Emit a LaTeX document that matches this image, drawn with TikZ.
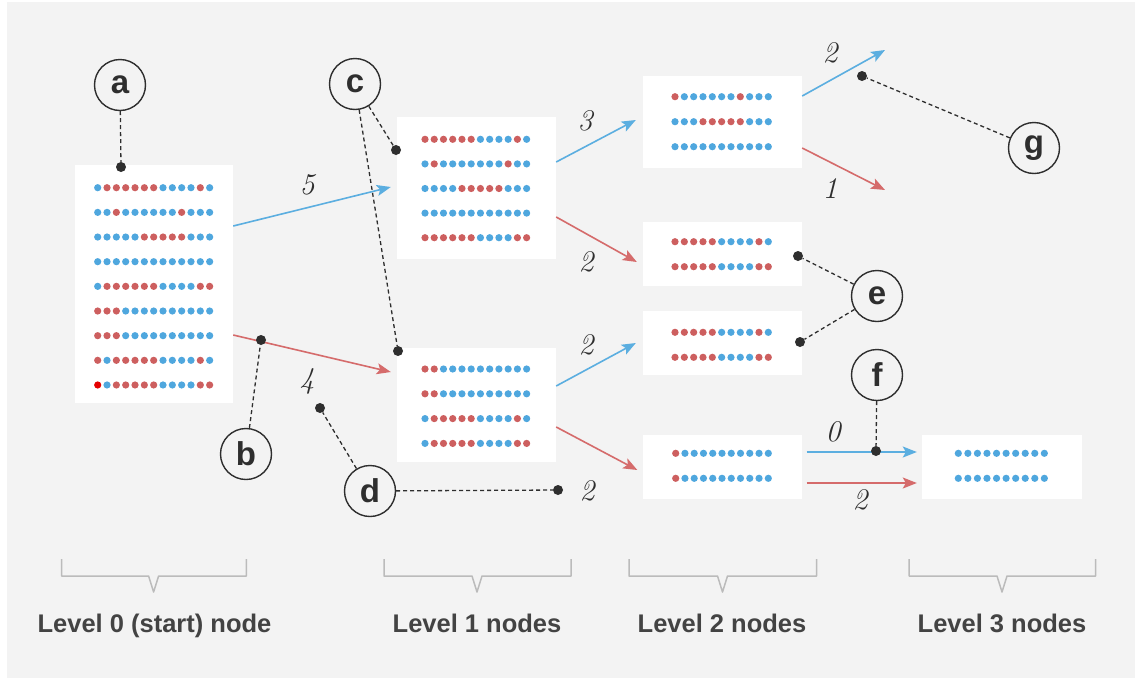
\documentclass[tikz,border=0pt]{standalone}
\usepackage{fontspec}
\setsansfont{Liberation Sans}
\usetikzlibrary{arrows.meta}
\definecolor{bg}{HTML}{F3F3F3}
\definecolor{dotblue}{HTML}{4FA7DE}
\definecolor{dotred}{HTML}{CD5F5F}
\definecolor{arrblue}{HTML}{5BAEE0}
\definecolor{arrred}{HTML}{D56B6B}
\definecolor{ink}{HTML}{2E2E2E}
\definecolor{bracegray}{HTML}{BBBBBB}
% one row of dots: x0, y, step, list of colours (b, r, x)
\newcommand{\dotrow}[4]{%
  \foreach \clr [count=\i from 0] in #4 {\fill[d\clr] (#1+\i*#3,#2) circle (3.6pt);}}
\newcommand{\levelbrace}[3]{%
  \draw[bracegray, line width=1.5pt, line join=round] (#1,559) -- (#1,576) -- (#2-5,576) -- (#2,592) -- (#2+5,576) -- (#3,576) -- (#3,559);}
\begin{document}
\begin{tikzpicture}[x=1pt,y=-1pt,
  db/.style={fill=dotblue}, dr/.style={fill=dotred}, dx/.style={fill=red!90!black},
  box/.style={fill=white, minimum width=159pt, inner sep=0pt},
  letter/.style={circle, draw=ink, line width=1.4pt, fill=bg, minimum size=51pt, inner sep=0pt,
    font=\sffamily\bfseries\fontsize{33}{33}\selectfont, text=ink},
  blob/.style={circle, fill=ink, minimum size=10pt, inner sep=0pt},
  lead/.style={ink, line width=1.3pt, dash pattern=on 4pt off 3pt},
  num/.style={font=\itshape\fontsize{30}{30}\selectfont, text=ink},
  goblue/.style={arrblue, line width=1.6pt, -{Stealth[length=14pt,width=11pt,inset=3pt]}},
  gored/.style={arrred, line width=1.6pt, -{Stealth[length=14pt,width=11pt,inset=3pt]}},
  levellabel/.style={anchor=base, font=\sffamily\bfseries\fontsize{25.5}{25.5}\selectfont, text=ink!90}]
\useasboundingbox (0,0) rectangle (1135,678);
\fill[white] (0,0) rectangle (1135,678);
\fill[bg] (7,2) rectangle (1135,678);

% boxes
\node[box, minimum width=158pt, minimum height=238pt] (l0) at (154,284) {};
\node[box, minimum height=142pt] (l1a) at (476.5,188) {};
\node[box, minimum height=114pt] (l1b) at (476.5,405) {};
\node[box, minimum height=92pt] (l2a) at (722.5,122) {};
\node[box, minimum height=64pt] (l2b) at (722.5,254) {};
\node[box, minimum height=64pt] (l2c) at (722.5,343) {};
\node[box, minimum height=64pt] (l2d) at (722,467) {};
\node[box, minimum width=160pt, minimum height=64pt] (l3) at (1002,467) {};

% dots
\foreach \row [count=\k from 0] in {{b,r,r,r,r,r,r,b,b,b,b,r,b},{b,b,r,b,b,b,b,b,b,r,b,b,b},
    {b,b,b,b,b,r,r,r,r,r,b,b,b},{b,b,b,b,b,b,b,b,b,b,b,b,b},{b,r,r,r,r,r,r,b,b,b,b,r,r},
    {r,r,r,b,b,b,b,b,b,b,b,b,b},{r,r,r,b,b,b,b,b,b,b,b,b,b},{r,b,r,r,r,r,r,b,b,b,b,r,b},
    {x,b,r,r,r,r,r,b,b,b,b,r,r}}
  {\dotrow{97.7}{187.7+\k*24.66}{9.33}{\row}}
\foreach \row [count=\k from 0] in {{r,r,r,r,r,r,b,b,b,b,r,b},{b,r,b,b,b,b,b,b,b,r,b,b},
    {b,b,b,b,r,r,r,r,r,b,b,b},{b,b,b,b,b,b,b,b,b,b,b,b},{r,r,r,r,r,r,b,b,b,b,r,r}}
  {\dotrow{425}{139.3+\k*24.6}{9.24}{\row}}
\foreach \row [count=\k from 0] in {{r,r,b,b,b,b,b,b,b,b,b,b},{r,r,b,b,b,b,b,b,b,b,b,b},
    {b,r,r,r,r,r,b,b,b,b,r,b},{b,r,r,r,r,r,b,b,b,b,r,r}}
  {\dotrow{425}{369+\k*24.8}{9.24}{\row}}
\foreach \row [count=\k from 0] in {{r,b,b,b,b,b,b,r,b,b,b},{b,b,b,r,r,r,r,r,b,b,b},{b,b,b,b,b,b,b,b,b,b,b}}
  {\dotrow{675}{96.7+\k*25}{9.33}{\row}}
\foreach \y in {241.7,332.3} {
  \dotrow{675}{\y}{9.33}{{r,r,r,r,r,b,b,b,b,r,b}}
  \dotrow{675}{\y+25}{9.33}{{r,r,r,r,r,b,b,b,b,r,r}}
}
\foreach \y in {453.3,478.3} {
  \dotrow{675.7}{\y}{9.26}{{r,b,b,b,b,b,b,b,b,b,b}}
  \dotrow{958.3}{\y}{9.56}{{b,b,b,b,b,b,b,b,b,b}}
}

% arrows
\coordinate (top) at (885,50);
\coordinate (mid) at (885,190);
\draw[goblue] ([yshift=58pt]l0.east) -- ([xshift=-6pt,yshift=1pt]l1a.west);
\draw[gored] ([yshift=-51pt]l0.east) -- ([xshift=-6pt,yshift=33pt]l1b.west);
\draw[goblue] ([yshift=26pt]l1a.east) -- ([xshift=-7pt,yshift=2pt]l2a.west);
\draw[gored] ([yshift=-29pt]l1a.east) -- ([xshift=-6pt,yshift=-8pt]l2b.west);
\draw[goblue] ([yshift=19pt]l1b.east) -- ([xshift=-7pt]l2c.west);
\draw[gored] ([yshift=-22pt]l1b.east) -- ([xshift=-5pt,yshift=-3pt]l2d.west);
\draw[goblue] ([yshift=26pt]l2a.east) -- (top);
\draw[gored] ([yshift=-26pt]l2a.east) -- (mid);
\draw[goblue] ([xshift=5pt,yshift=15pt]l2d.east) -- ([xshift=-5pt,yshift=15pt]l3.west);
\draw[gored] ([xshift=5pt,yshift=-16pt]l2d.east) -- ([xshift=-5pt,yshift=-16pt]l3.west);

% numbers
\node[num] (n5) at (307,185) {5};
\node[num] (n4) at (307,381) {4};
\node[num] (n3) at (585,121) {3};
\node[num] (n2a) at (586,262) {2};
\node[num] (n2b) at (586,345) {2};
\node[num] (n2c) at (587,491) {2};
\node[num] (n2d) at (830,53) {2};
\node[num] (n1) at (830,189) {1};
\node[num] (n0) at (833,432) {0};
\node[num] (n2e) at (860,500) {2};

% letters and leads
\node[blob] (adot) at (121,167) {};
\node[blob] (bdot) at (261,340) {};
\node[blob] (cdot1) at (396,150) {};
\node[blob] (cdot2) at (398,351) {};
\node[blob] (ddot1) at (320,408) {};
\node[blob] (ddot2) at (558,490) {};
\node[blob] (edot1) at (798,256) {};
\node[blob] (edot2) at (800,342) {};
\node[blob] (fdot) at (876,451) {};
\node[blob] (gdot) at (862,76) {};
\node[letter] (a) at (120,85) {a};
\node[letter] (b) at (246,454) {b};
\node[letter] (c) at (355,84) {c};
\node[letter] (d) at (370,491) {d};
\node[letter] (e) at (877,296) {e};
\node[letter] (f) at (877,375) {f};
\node[letter] (g) at (1034,148) {g};
\draw[lead] (a) -- (adot);
\draw[lead] (b) -- (bdot);
\draw[lead] (c) -- (cdot1);
\draw[lead] (c) -- (cdot2);
\draw[lead] (d) -- (ddot1);
\draw[lead] (d) -- (ddot2);
\draw[lead] (e) -- (edot1);
\draw[lead] (e) -- (edot2);
\draw[lead] (f) -- (fdot);
\draw[lead] (g) -- (gdot);

% levels
\levelbrace{61.6}{153.6}{246.4}
\levelbrace{384}{477}{571}
\levelbrace{629}{722.5}{816.7}
\levelbrace{909}{1002}{1095.6}
\node[levellabel] (lv0) at (154.5,632) {Level 0 (start) node};
\node[levellabel] (lv1) at (477,632) {Level 1 nodes};
\node[levellabel] (lv2) at (722,632) {Level 2 nodes};
\node[levellabel] (lv3) at (1002,632) {Level 3 nodes};
\end{tikzpicture}
\end{document}
